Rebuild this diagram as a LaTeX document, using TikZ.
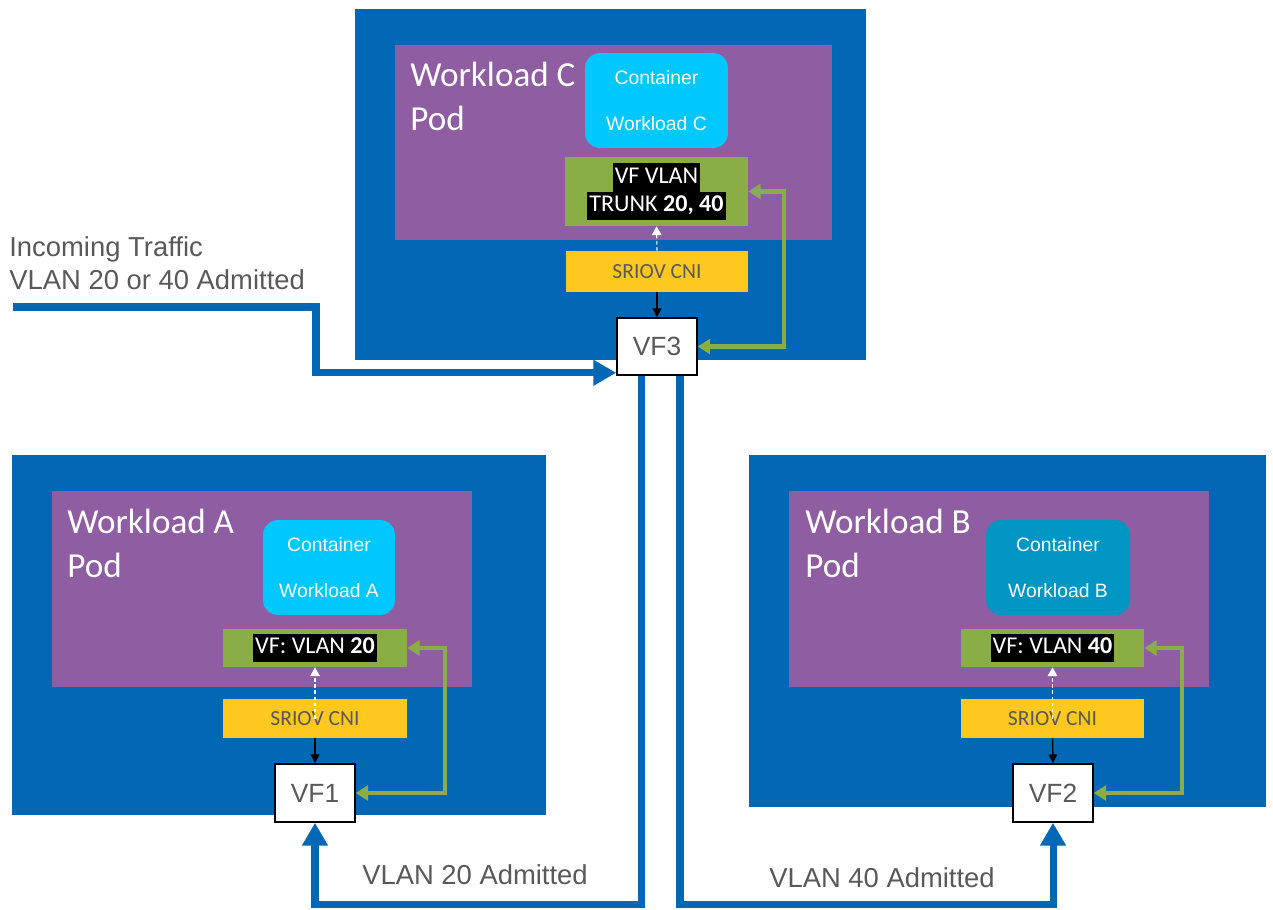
\documentclass[tikz,border=0pt]{standalone}
\usepackage{fontspec}
\setmainfont{Carlito}
\newfontfamily\arialf{Liberation Sans}
\usepackage{xcolor}
\usetikzlibrary{arrows.meta}

\definecolor{hostblue}{RGB}{2,103,181}
\definecolor{podpurple}{RGB}{143,93,161}
\definecolor{ctrcyan}{RGB}{0,199,253}
\definecolor{ctrteal}{RGB}{0,150,196}
\definecolor{vfgreen}{RGB}{139,173,69}
\definecolor{cniyellow}{RGB}{255,200,30}
\definecolor{txtgray}{RGB}{89,89,89}

% texto blanco sobre fondo negro
\newcommand{\hlbox}[1]{{\setlength{\fboxsep}{0pt}\colorbox{black}{\kern1.2pt\strut #1\kern1.2pt}}}

\begin{document}
\begin{tikzpicture}[x=0.02cm, y=-0.02cm,
  host/.style={fill=hostblue, inner sep=0pt},
  pod/.style={fill=podpurple, inner sep=0pt},
  ctr/.style={rounded corners=0.3cm, text=white, align=center, inner sep=0pt,
    minimum height=1.9cm, font=\arialf\fontsize{11}{26}\selectfont},
  vfbox/.style={fill=vfgreen, text=white, align=center, inner sep=0pt,
    font=\fontsize{13.7}{16}\selectfont},
  cni/.style={fill=cniyellow, text=txtgray, inner sep=0pt,
    font=\fontsize{12.3}{14}\selectfont},
  vfport/.style={draw=black, fill=white, line width=0.9pt, text=txtgray, inner sep=0pt,
    minimum width=1.6cm, font=\arialf\fontsize{15}{18}\selectfont},
  title/.style={text=white, align=left, inner sep=0pt, anchor=north west,
    font=\fontsize{20}{25}\selectfont},
  lbl/.style={text=txtgray, inner sep=0pt, font=\arialf\fontsize{15.6}{18.7}\selectfont},
  traffic/.style={draw=hostblue, line width=4pt, -{Triangle[width=14pt,length=13pt]}},
  cnilink/.style={black, line width=0.8pt, -{Triangle[width=5pt,length=5pt]}},
  podlink/.style={white, line width=0.6pt, dash pattern=on 2pt off 1.5pt,
    -{Triangle[width=5.5pt,length=5pt]}},
  grnlink/.style={draw=vfgreen, line width=2.4pt,
    {Triangle[width=8.5pt,length=7pt]}-{Triangle[width=8.5pt,length=7pt]}}]

  \useasboundingbox (0,0) rectangle (1273,909);

  % Pod C (arriba)
  \node[host, minimum width=10.22cm, minimum height=7.02cm] (hostC) at (610.5,184.5) {};
  \node[pod, minimum width=8.74cm, minimum height=3.9cm] (podC) at (613.5,142.5) {};
  \node[title] (titleC) at (410,62) {Workload C\\Pod};
  \node[ctr, fill=ctrcyan, minimum width=2.86cm] (ctrC) at (656.5,100.5) {Container\\Workload C};
  \node[vfbox, minimum width=3.66cm, minimum height=1.38cm] (vfC) at (656.5,191.5)
    {\hlbox{VF VLAN}\\\hlbox{TRUNK \textbf{20, 40}}};
  \node[cni, minimum width=3.64cm, minimum height=0.82cm] (cniC) at (657,271.5) {SRIOV CNI};
  \node[vfport, minimum height=1.14cm] (vf3) at (657,346.5) {VF3};
  \draw[cnilink] (cniC.south) -- (vf3.north);
  \draw[podlink] (cniC.north) -- (vfC.south);
  \draw[grnlink] (vfC.east) -- ++(36,0) |- (vf3.east);

  % Pod A (izquierda)
  \node[host, minimum width=10.68cm, minimum height=7.2cm] (hostA) at (279,635) {};
  \node[pod, minimum width=8.4cm, minimum height=3.92cm] (podA) at (262,589) {};
  \node[title] (titleA) at (67,509) {Workload A\\Pod};
  \node[ctr, fill=ctrcyan, minimum width=2.64cm] (ctrA) at (329,567.5) {Container\\Workload A};
  \node[vfbox, minimum width=3.68cm, minimum height=0.76cm] (vfA) at (315,648)
    {\hlbox{VF: VLAN \textbf{20}}};
  \node[cni, minimum width=3.68cm, minimum height=0.78cm] (cniA) at (315,718.5) {SRIOV CNI};
  \node[vfport, minimum height=1.16cm] (vf1) at (315,793) {VF1};
  \draw[cnilink] (cniA.south) -- (vf1.north);
  \draw[podlink] (cniA.center) -- (vfA.south);
  \draw[grnlink] (vfA.east) -- ++(38,0) |- (vf1.east);

  % Pod B (derecha)
  \node[host, minimum width=10.34cm, minimum height=7.04cm] (hostB) at (1007.5,631) {};
  \node[pod, minimum width=8.4cm, minimum height=3.92cm] (podB) at (999,589) {};
  \node[title] (titleB) at (805,509) {Workload B\\Pod};
  \node[ctr, fill=ctrteal, minimum width=2.88cm] (ctrB) at (1058,567.5) {Container\\Workload B};
  \node[vfbox, minimum width=3.66cm, minimum height=0.76cm] (vfB) at (1052.5,648)
    {\hlbox{VF: VLAN \textbf{40}}};
  \node[cni, minimum width=3.66cm, minimum height=0.78cm] (cniB) at (1052.5,718.5) {SRIOV CNI};
  \node[vfport, minimum height=1.16cm] (vf2) at (1053,793) {VF2};
  \draw[cnilink] (cniB.south) -- (vf2.north);
  \draw[podlink] (cniB.center) -- (vfB.south);
  \draw[grnlink] (vfB.east) -- ++(38,0) |- (vf2.east);

  % Trafico
  \coordinate (inStart) at (13,307);
  \draw[traffic] (inStart) -- (316,307) |- ([yshift=0.06cm]vf3.south west);
  \draw[traffic] ([xshift=-0.32cm]vf3.south) -- ++(0,529) -| (vf1.south);
  \draw[traffic] ([xshift=0.46cm]vf3.south) -- ++(0,529) -| (vf2.south);

  \node[lbl, anchor=west, align=left] (inTxt) at (9,263) {Incoming Traffic\\VLAN 20 or 40 Admitted};
  \node[lbl] (txtA) at (475,875) {VLAN 20 Admitted};
  \node[lbl] (txtB) at (882,878) {VLAN 40 Admitted};
\end{tikzpicture}
\end{document}
